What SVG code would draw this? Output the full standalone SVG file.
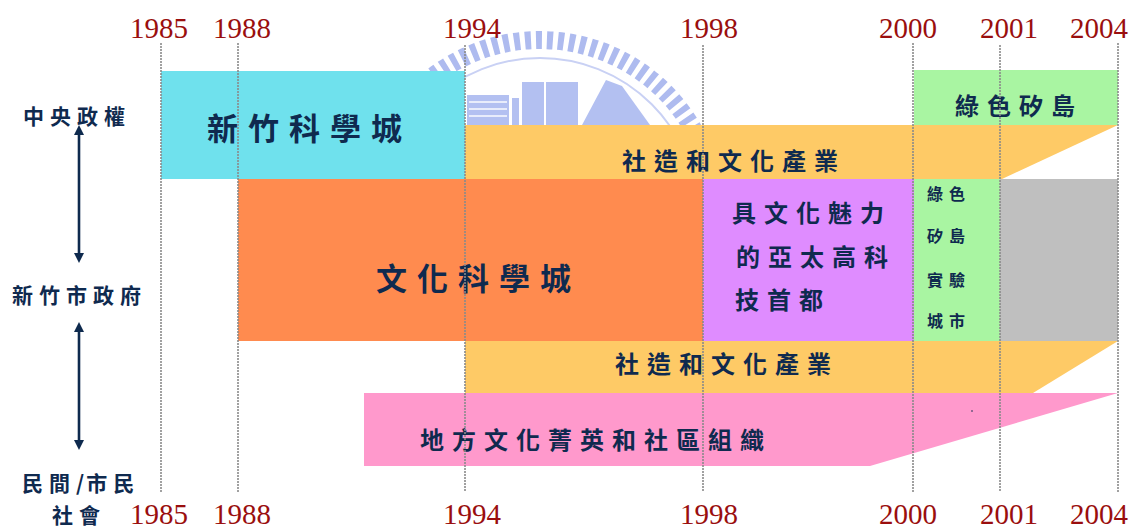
<svg xmlns="http://www.w3.org/2000/svg" width="1134" height="530" viewBox="0 0 1134 530">
<defs>
<style>
.yr{font-family:"Liberation Serif","Times New Roman",serif;font-size:29px;fill:#9A0E0E}
.cj{font-family:"Noto Sans CJK TC","Noto Sans CJK SC",sans-serif;font-weight:700;fill:#0F2A4F}
.big{font-size:31px;letter-spacing:10px}
.mid{font-size:24px;letter-spacing:8px}
.sm{font-size:16px;letter-spacing:6px}
.lab{font-size:21px;letter-spacing:6px}
.grid{stroke:#8A8A8A;stroke-width:1.6;stroke-dasharray:2 1}
.arr{stroke:#0E2A4E;stroke-width:2.6;fill:none;marker-start:url(#ah);marker-end:url(#ah)}
.wm{fill:#B3C0F1}
</style>
<clipPath id="wmclip"><rect x="0" y="0" width="1134" height="126"/></clipPath>
<marker id="ah" viewBox="0 0 10 10" markerWidth="10" markerHeight="10" refX="2" refY="5" orient="auto-start-reverse" markerUnits="userSpaceOnUse">
<path d="M0,0 L10,5 L0,10 z" fill="#0E2A4E"/>
</marker>
</defs>
<rect width="1134" height="530" fill="#FFFFFF"/>

<g id="watermark" clip-path="url(#wmclip)">
<circle cx="540" cy="216" r="176" fill="none" stroke="#AEBBEF" stroke-width="18" stroke-dasharray="6 5"/>
<circle cx="540" cy="216" r="158" fill="none" stroke="#C9D1F4" stroke-width="2"/>
<rect class="wm" x="467" y="95" width="42" height="30"/>
<rect x="469" y="101" width="38" height="2" fill="#E8ECFB"/>
<rect x="469" y="108" width="38" height="2" fill="#E8ECFB"/>
<rect x="469" y="115" width="38" height="2" fill="#E8ECFB"/>
<rect class="wm" x="512" y="98" width="7" height="27"/>
<rect class="wm" x="522" y="82" width="22" height="43"/>
<rect class="wm" x="546" y="82" width="32" height="43"/>
<polygon class="wm" points="582,125 606,80 622,86 650,125"/>
</g>

<g id="band-hsinchu-science-city">
<rect x="161" y="71" width="304" height="108" fill="#6FE1ED"/>
<text class="cj big" x="207" y="140">新竹科學城</text>
</g>

<g id="band-green-silicon-island">
<rect x="914" y="70" width="204" height="55" fill="#A9F5A2"/>
<text class="cj mid" x="955" y="115">綠色矽島</text>
</g>

<g id="band-community-upper">
<polygon points="465,125 1118,125 1002,179 465,179" fill="#FECA66"/>
<text class="cj mid" x="622" y="170">社造和文化產業</text>
</g>

<g id="band-culture-science-city">
<rect x="238" y="179" width="465" height="162" fill="#FF8B4F"/>
<text class="cj big" x="376" y="290">文化科學城</text>
</g>

<g id="band-asia-pacific-capital">
<rect x="703" y="179" width="211" height="162" fill="#DF8CFF"/>
<text class="cj mid" x="732" y="222">具文化魅力</text>
<text class="cj mid" x="736" y="266">的亞太高科</text>
<text class="cj mid" x="735" y="309">技首都</text>
</g>

<g id="band-green-island-city">
<rect x="914" y="179" width="86" height="162" fill="#A9F5A2"/>
<text class="cj sm" x="927" y="200">綠色</text>
<text class="cj sm" x="927" y="242">矽島</text>
<text class="cj sm" x="927" y="286">實驗</text>
<text class="cj sm" x="927" y="327">城市</text>
</g>

<g id="band-gray">
<rect x="1000" y="179" width="118" height="162" fill="#BFBFBF"/>
</g>

<g id="band-community-lower">
<polygon points="465,341 1118,341 1033,393 465,393" fill="#FECA66"/>
<text class="cj mid" x="615" y="373">社造和文化產業</text>
</g>

<g id="band-local-elites">
<polygon points="364,393 1118,393 870,466 364,466" fill="#FF99CC"/>
<text class="cj mid" x="420" y="449">地方文化菁英和社區組織</text>
<circle cx="972" cy="411" r="0.8" fill="#0F2A4F"/>
</g>

<g id="gridlines">
<line class="grid" x1="161" y1="43" x2="161" y2="492"/>
<line class="grid" x1="238" y1="43" x2="238" y2="492"/>
<line class="grid" x1="465" y1="45" x2="465" y2="492"/>
<line class="grid" x1="703" y1="45" x2="703" y2="492"/>
<line class="grid" x1="913" y1="43" x2="913" y2="492"/>
<line class="grid" x1="1000" y1="45" x2="1000" y2="492"/>
<line class="grid" x1="1118" y1="43" x2="1118" y2="492"/>
</g>

<g id="years-top">
<text class="yr" x="130" y="38">1985</text>
<text class="yr" x="213" y="38">1988</text>
<text class="yr" x="443" y="38">1994</text>
<text class="yr" x="680" y="38">1998</text>
<text class="yr" x="879" y="38">2000</text>
<text class="yr" x="980" y="38">2001</text>
<text class="yr" x="1070" y="38">2004</text>
</g>

<g id="years-bottom">
<text class="yr" x="130" y="524">1985</text>
<text class="yr" x="213" y="524">1988</text>
<text class="yr" x="443" y="524">1994</text>
<text class="yr" x="680" y="524">1998</text>
<text class="yr" x="879" y="524">2000</text>
<text class="yr" x="980" y="524">2001</text>
<text class="yr" x="1070" y="524">2004</text>
</g>

<g id="node-central">
<text class="cj lab" x="23" y="124">中央政權</text>
</g>
<g id="node-city-gov">
<text class="cj lab" x="12" y="303">新竹市政府</text>
</g>
<g id="node-civil-society">
<text class="cj lab" x="22" y="491">民間<tspan letter-spacing="2">/</tspan>市民</text>
<text class="cj lab" x="52" y="523">社會</text>
</g>

<g id="connectors">
<path class="arr" d="M79,133 L79,255"/>
<path class="arr" d="M79,330 L79,442"/>
</g>
</svg>
